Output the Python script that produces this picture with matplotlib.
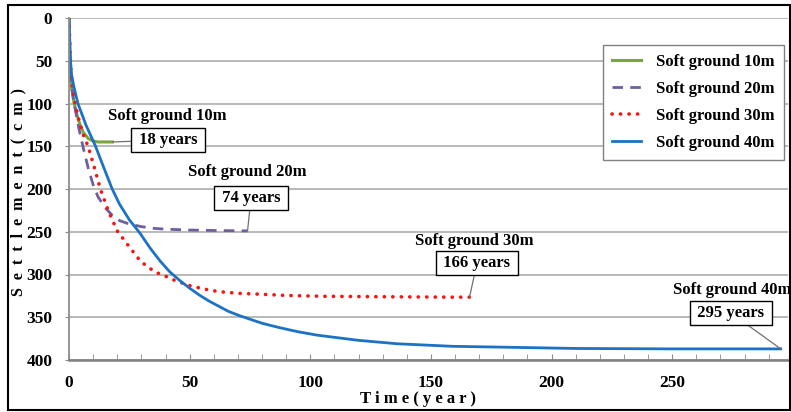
import matplotlib
matplotlib.use('Agg')
import matplotlib.pyplot as plt
from matplotlib.ticker import MultipleLocator
from matplotlib.patches import Rectangle

plt.rcParams['font.family'] = ['Liberation Serif', 'DejaVu Serif']
plt.rcParams['font.weight'] = 'bold'

# values
t_10m = [0, 0.5, 1, 2, 3, 4, 5, 6, 8, 10, 12, 14, 16, 18]
s_10m = [0, 55, 80, 98, 110, 120, 128, 134, 141, 144, 145, 145, 145, 145]

t_20m = [0, 0.5, 1, 2, 3, 4, 6, 8, 10, 12, 15, 18, 21, 25, 30, 35, 40, 50, 60, 74]
s_20m = [0, 50, 78, 98, 113, 128, 153, 176, 195, 209, 222, 231, 237, 241, 244, 246, 247, 248, 248.5, 249]

t_30m = [0, 0.5, 1, 2, 3, 4, 6, 7.9, 10, 13, 16.5, 20, 24, 29.5, 33, 36.5, 40, 43, 50, 56, 62, 70, 79,
         90, 106, 130, 159, 166]
s_30m = [0, 45, 72, 92, 106, 118, 137, 150, 170, 200, 227, 249, 264, 284, 292, 298, 302, 306, 313, 317,
         320, 322, 323, 324.5, 325.5, 326, 326.5, 326.5]

t_40m = [0, 0.5, 1, 2, 3.7, 7, 11, 14, 17.9, 21, 25, 29.5, 33.6, 37.7, 41.8, 45.9, 50, 54, 58, 62, 66,
         70.5, 80, 87, 95, 103, 120, 136, 159, 180, 210, 250, 295]
s_40m = [0, 45, 65, 80, 100, 125, 150, 172, 200, 218, 236, 252, 269, 284, 297, 307, 316, 324, 331, 337,
         343, 348, 357, 362, 367, 371, 377, 381, 384, 385, 386.5, 387, 387]

labels = ['Soft ground 10m', 'Soft ground 20m', 'Soft ground 30m', 'Soft ground 40m']
years = ['18 years', '74 years', '166 years', '295 years']

W, H = 791, 412
fig = plt.figure(figsize=(W / 100, H / 100), dpi=100)
ax = fig.add_axes([69 / W, 1 - 360 / H, (788 - 69) / W, (360 - 18) / H])


def fx(px):
    return px / W


def fy(py):
    return 1 - py / H


ax.plot(t_10m, s_10m, color='#7aa63c', lw=2.2, label=labels[0])
ax.plot(t_20m, s_20m, color='#6f5ea0', lw=2.0, linestyle=(0, (3.8, 2.6)), label=labels[1])
ax.plot(t_30m, s_30m, color='#ff1010', lw=2.6, linestyle=(0, (0.05, 2.3)),
        dash_capstyle='round', label=labels[2])
ax.plot(t_40m, s_40m, color='#1c72c4', lw=2.0, label=labels[3])

ax.set_xlim(0, 298)
ax.set_ylim(400, 0)
ax.xaxis.set_major_locator(MultipleLocator(50))
ax.xaxis.set_minor_locator(MultipleLocator(10))
ax.yaxis.set_major_locator(MultipleLocator(50))
ax.grid(axis='y', color='#a6a6a6', lw=1.1)
ax.set_axisbelow(True)
for side in ['top', 'right']:
    ax.spines[side].set_visible(False)
ax.spines['left'].set_color('#8c8c8c')
ax.spines['bottom'].set_color('#7f7f7f')
ax.spines['left'].set_linewidth(1.3)
ax.spines['bottom'].set_linewidth(1.8)
ax.tick_params(axis='x', which='both', direction='in', length=4, color='#8c8c8c', pad=11,
               labelsize=12.5)
ax.tick_params(axis='y', direction='out', length=3, color='#8c8c8c', pad=9, labelsize=12.5)
for lab in ax.get_xticklabels() + ax.get_yticklabels():
    lab.set_fontweight('bold')

leg = ax.legend(loc='upper right', bbox_to_anchor=(fx(784), fy(45)), bbox_transform=fig.transFigure,
                borderaxespad=0, fancybox=False, edgecolor='#808080', framealpha=1,
                prop={'size': 12, 'weight': 'bold'},
                handlelength=1.7, labelspacing=0.66, borderpad=0.55, handletextpad=0.95)
leg.get_frame().set_linewidth(1.0)

# annotations: label text, year box and leader line to each curve end
ends = [(t_10m[-1], s_10m[-1]), (t_20m[-1], s_20m[-1]), (t_30m[-1], s_30m[-1]), (t_40m[-1], s_40m[-1])]
text_pos = [(167, 116), (247, 172), (474, 241), (732, 290)]
box_pos = [(168, 140), (251, 198), (477, 263), (731, 313)]
for lab, yr, end, tp, bp in zip(labels, years, ends, text_pos, box_pos):
    fig.text(fx(tp[0]), fy(tp[1]), lab, ha='center', va='center', fontsize=12, fontweight='bold')
    ax.annotate(' ' + yr + ' ', xy=end, xycoords='data', xytext=(fx(bp[0]), fy(bp[1])),
                textcoords='figure fraction', ha='center', va='center', fontsize=12, fontweight='bold',
                bbox=dict(boxstyle='square,pad=0.22', fc='white', ec='black', lw=1.0),
                arrowprops=dict(arrowstyle='-', color='#707070', lw=0.9, shrinkA=0, shrinkB=0))

fig.text(fx(18), fy(192), 'S  e  t  t  l  e  m  e  n  t  (  c  m  )', rotation=90, ha='center',
         va='center', fontsize=11.5, fontweight='bold')
fig.text(fx(418), fy(399), 'T i m e ( y e a r )', ha='center', va='center', fontsize=12,
         fontweight='bold')

fig.patches.append(Rectangle((fx(8), fy(410)), fx(782), 405 / H, transform=fig.transFigure,
                             fill=False, edgecolor='black', lw=1.5))

fig.savefig('out.png', dpi=100)
